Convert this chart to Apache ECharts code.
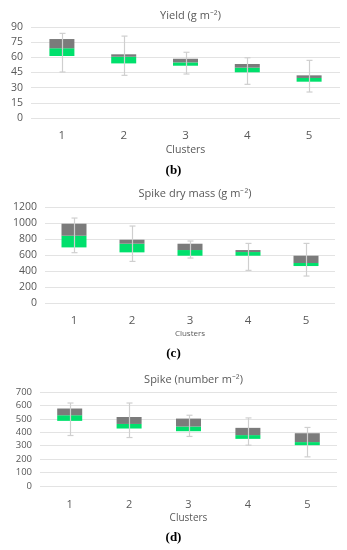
<!DOCTYPE html>
<html><head><meta charset="utf-8">
<script src="https://cdn.jsdelivr.net/npm/echarts@6/dist/echarts.min.js"></script>
<style>html,body{margin:0;padding:0;background:#fff}#c{width:347px;height:550px}</style>
</head><body><div id="c"></div>
<script>
const categories = ['1','2','3','4','5'];
// Yield (g m-2)
const yieldMin = [45.5, 42.2, 43.5, 33.3, 25.7];
const yieldQ1  = [61.3, 54.0, 51.7, 45.2, 35.9];
const yieldMed = [69.0, 60.6, 55.0, 49.8, 39.6];
const yieldQ3  = [78.1, 63.0, 58.6, 53.4, 42.2];
const yieldMax = [83.7, 81.0, 65.0, 59.6, 57.0];
const yieldTicks = [0, 15, 30, 45, 60, 75, 90];
// Spike dry mass (g m-2)
const massMin = [629, 520, 562, 408, 337];
const massQ1  = [695, 633, 591, 591, 462];
const massMed = [841, 741, 662, 637, 500];
const massQ3  = [991, 791, 741, 662, 591];
const massMax = [1062, 962, 775, 745, 745];
const massTicks = [0, 200, 400, 600, 800, 1000, 1200];
// Spike (number m-2)
const spikeMin = [376, 361, 369, 304, 217];
const spikeQ1  = [485, 428, 408, 351, 304];
const spikeMed = [527, 462, 443, 379, 327];
const spikeQ3  = [577, 514, 502, 433, 393];
const spikeMax = [618, 618, 527, 507, 436];
const spikeTicks = [0, 100, 200, 300, 400, 500, 600, 700];

const GREEN = '#00e06c', GRAY = '#7b7b7b', TXT = '#595959';
const FONT = '"Open Sans", "Liberation Sans", sans-serif';

const panels = [
  {title:'Yield (g m\u207B\u00B2)', min:yieldMin,q1:yieldQ1,med:yieldMed,q3:yieldQ3,max:yieldMax,ticks:yieldTicks,
   grid:{left:31,right:7,top:27,height:91}, titleTop:5, ySize:10.5, xSize:11.5, cSize:10.5, xlabTop:8, cGap:17, label:'(b)', labelY:172},
  {title:'Spike dry mass (g m\u207B\u00B2)', min:massMin,q1:massQ1,med:massMed,q3:massQ3,max:massMax,ticks:massTicks,
   grid:{left:45,right:12,top:207,height:96}, titleTop:183, ySize:10.5, xSize:11.5, cSize:8, xlabTop:8, cGap:17, label:'(c)', labelY:355},
  {title:'Spike (number m\u207B\u00B2)', min:spikeMin,q1:spikeQ1,med:spikeMed,q3:spikeQ3,max:spikeMax,ticks:spikeTicks,
   grid:{left:40,right:10,top:392,height:94}, titleTop:369, ySize:9.5, xSize:11, cSize:10, xlabTop:9, cGap:17, label:'(d)', labelY:539}
];

const grids=[], xAxes=[], yAxes=[], series=[], titles=[], graphics=[];
panels.forEach((p,i)=>{
  grids.push(Object.assign({containLabel:false}, p.grid));
  const tmin = p.ticks[0], tmax = p.ticks[p.ticks.length-1], step = p.ticks[1]-p.ticks[0];
  xAxes.push({type:'category', gridIndex:i, data:categories,
    axisLine:{show:false}, axisTick:{show:false},
    axisLabel:{color:TXT, fontSize:p.xSize, fontFamily:FONT, margin:p.xlabTop+4},
    name:'Clusters', nameLocation:'middle', nameGap:p.cGap+10,
    nameTextStyle:{color:TXT, fontSize:p.cSize, fontFamily:FONT}});
  yAxes.push({type:'value', gridIndex:i, min:tmin, max:tmax, interval:step,
    axisLine:{show:false}, axisTick:{show:false},
    axisLabel:{color:TXT, fontSize:p.ySize, fontFamily:FONT, margin:8, formatter:(v)=>String(v)},
    splitLine:{lineStyle:{color:'#e3e3e3', width:1}}});
  titles.push({text:p.title, left:(p.grid.left + (347 - p.grid.right))/2, textAlign:'center', top:p.titleTop,
    textStyle:{color:TXT, fontSize:11, fontWeight:'normal', fontFamily:FONT}});
  const base = p.q1;
  const lower = p.med.map((m,k)=>+(m - p.q1[k]).toFixed(2));
  const upper = p.q3.map((q,k)=>+(q - p.med[k]).toFixed(2));
  const stack = 's'+i;
  series.push({type:'bar', xAxisIndex:i, yAxisIndex:i, stack, data:base, barWidth:25,
    itemStyle:{color:'transparent'}, silent:true});
  series.push({type:'bar', xAxisIndex:i, yAxisIndex:i, stack, data:lower, barWidth:25,
    itemStyle:{color:GREEN}});
  series.push({type:'bar', xAxisIndex:i, yAxisIndex:i, stack, data:upper, barWidth:25,
    itemStyle:{color:GRAY}});
  series.push({type:'custom', xAxisIndex:i, yAxisIndex:i, z:10,
    data: categories.map((c,k)=>[k, p.min[k], p.max[k]]),
    renderItem:(params, api)=>{
      const lo = api.coord([api.value(0), api.value(1)]);
      const hi = api.coord([api.value(0), api.value(2)]);
      const x = Math.round(lo[0]) + 0.5, cw = 3;
      const st = {stroke:'#cfcfcf', lineWidth:1.2};
      return {type:'group', children:[
        {type:'line', shape:{x1:x, y1:hi[1], x2:x, y2:lo[1]}, style:st},
        {type:'line', shape:{x1:x-cw, y1:hi[1], x2:x+cw, y2:hi[1]}, style:st},
        {type:'line', shape:{x1:x-cw, y1:lo[1], x2:x+cw, y2:lo[1]}, style:st}
      ]};
    }});
  graphics.push({type:'text', left:'center', top:p.labelY-8,
    style:{text:p.label, font:'bold 13px "Liberation Serif", "DejaVu Serif", serif', fill:'#000'}});
});

const chart = echarts.init(document.getElementById('c'), null, {renderer:'canvas'});
chart.setOption({animation:false, backgroundColor:'#fff', title:titles, grid:grids,
  xAxis:xAxes, yAxis:yAxes, series, graphic:graphics});
</script></body></html>
